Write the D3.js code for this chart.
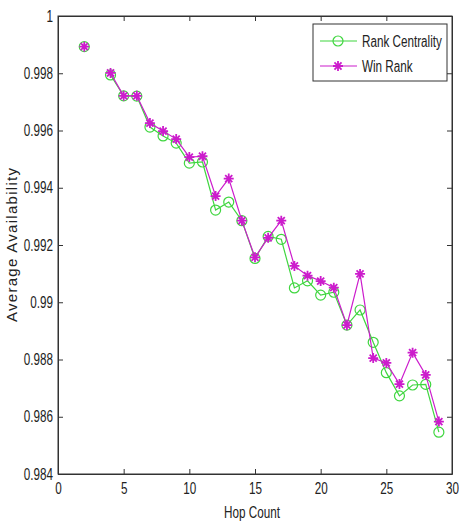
<!DOCTYPE html>
<html>
<head>
<meta charset="utf-8">
<script src="https://cdn.jsdelivr.net/npm/d3@7"></script>
<style>
    body { margin: 0; background: #fff; }
    svg text { font-family: "Liberation Sans", Arial, sans-serif; fill: #222; }
</style>
</head>
<body>
<svg id="chart" width="459" height="525"></svg>
<script>
// hop counts (3 has no value in the source)
const hops = [2, 3, 4, 5, 6, 7, 8, 9, 10, 11, 12, 13, 14, 15, 16, 17, 18, 19, 20, 21, 22, 23, 24, 25, 26, 27, 28, 29];
const rankCentrality = [0.99893, null, 0.99794, 0.99721, 0.99720, 0.99612, 0.99581, 0.99556, 0.99486, 0.99490,
    0.99322, 0.99350, 0.99285, 0.99153, 0.99230, 0.99220, 0.99050, 0.99075, 0.99025, 0.99035,
    0.98920, 0.98973, 0.98860, 0.98754, 0.98673, 0.98711, 0.98713, 0.98546];
const winRank = [0.99893, null, 0.99801, 0.99721, 0.99721, 0.99626, 0.99598, 0.99570, 0.99507, 0.99510,
    0.99371, 0.99432, 0.99285, 0.99157, 0.99225, 0.99285, 0.99127, 0.99093, 0.99074, 0.99051,
    0.98920, 0.99099, 0.98805, 0.98788, 0.98714, 0.98824, 0.98746, 0.98583];
const xTicks = [0, 5, 10, 15, 20, 25, 30];
const yTicks = [0.984, 0.986, 0.988, 0.99, 0.992, 0.994, 0.996, 0.998, 1];

const margin = { top: 16, right: 7, bottom: 51, left: 58 };
const width = 459;
const height = 525;
const SQUEEZE = 0.73; // the source text is horizontally condensed

const svg = d3.select('#chart');

const x = d3.scaleLinear().domain([0, 30]).range([margin.left, width - margin.right]);
const y = d3.scaleLinear().domain([0.984, 1]).range([height - margin.bottom, margin.top]);

const fmt = d => String(+d.toFixed(3));

function condense(selection) {
    selection.each(function () {
        const w = this.getComputedTextLength();
        this.setAttribute('textLength', w * SQUEEZE);
        this.setAttribute('lengthAdjust', 'spacingAndGlyphs');
    });
}

// axes with inward ticks, mirrored on top and right
svg.append('g')
    .attr('transform', `translate(0,${y.range()[0]})`)
    .call(d3.axisBottom(x).tickValues(xTicks).tickSize(-5).tickSizeOuter(0).tickPadding(9))
    .call(g => g.selectAll('text').attr('font-size', 16).call(condense));
svg.append('g')
    .attr('transform', `translate(0,${y.range()[1]})`)
    .call(d3.axisTop(x).tickValues(xTicks).tickSize(-5).tickSizeOuter(0).tickFormat(''));
svg.append('g')
    .attr('transform', `translate(${x.range()[0]},0)`)
    .call(d3.axisLeft(y).tickValues(yTicks).tickSize(-5).tickSizeOuter(0).tickPadding(5).tickFormat(fmt))
    .call(g => g.selectAll('text').attr('font-size', 16).call(condense));
svg.append('g')
    .attr('transform', `translate(${x.range()[1]},0)`)
    .call(d3.axisRight(y).tickValues(yTicks).tickSize(-5).tickSizeOuter(0).tickFormat(''));

svg.selectAll('.domain').attr('stroke', '#333');
svg.selectAll('.tick line').attr('stroke', '#333');

svg.append('rect')
    .attr('x', x.range()[0])
    .attr('y', y.range()[1])
    .attr('width', x.range()[1] - x.range()[0])
    .attr('height', y.range()[0] - y.range()[1])
    .attr('fill', 'none')
    .attr('stroke', '#333');

svg.append('text')
    .attr('x', 252)
    .attr('y', 518)
    .attr('text-anchor', 'middle')
    .attr('font-size', 16)
    .text('Hop Count')
    .call(condense);

svg.append('text')
    .attr('transform', 'translate(17,245) rotate(-90)')
    .attr('text-anchor', 'middle')
    .attr('font-size', 15)
    .attr('textLength', 154)
    .attr('lengthAdjust', 'spacing')
    .text('Average Availability');

const series = [
    { name: 'Rank Centrality', values: rankCentrality, color: '#3fd63f', marker: 'circle' },
    { name: 'Win Rank', values: winRank, color: '#cc1ccc', marker: 'star' },
];

const line = d3.line()
    .defined(d => d[1] != null)
    .x(d => x(d[0]))
    .y(d => y(d[1]));

function drawMarker(g, kind, color) {
    if (kind === 'circle') {
        g.append('circle').attr('r', 5).attr('fill', 'none').attr('stroke', color).attr('stroke-width', 1.2);
    } else {
        const r = 5;
        const path = d3.path();
        for (let i = 0; i < 4; i++) {
            const a = (i * Math.PI) / 4;
            path.moveTo(-r * Math.cos(a), -r * Math.sin(a));
            path.lineTo(r * Math.cos(a), r * Math.sin(a));
        }
        g.append('path').attr('d', path.toString()).attr('stroke', color).attr('stroke-width', 1.8);
    }
}

series.forEach(s => {
    const pts = hops.map((h, i) => [h, s.values[i]]);
    svg.append('path')
        .datum(pts)
        .attr('d', line)
        .attr('fill', 'none')
        .attr('stroke', s.color)
        .attr('stroke-width', 1.2);
    svg.append('g')
        .selectAll('g')
        .data(pts.filter(d => d[1] != null))
        .join('g')
        .attr('transform', d => `translate(${x(d[0])},${y(d[1])})`)
        .each(function () { drawMarker(d3.select(this), s.marker, s.color); });
});

// legend
const legend = svg.append('g').attr('transform', 'translate(313,24)');
legend.append('rect')
    .attr('width', 134)
    .attr('height', 57)
    .attr('fill', '#fff')
    .attr('stroke', '#333');
series.forEach((s, i) => {
    const row = legend.append('g').attr('transform', `translate(0,${17 + i * 25})`);
    row.append('line').attr('x1', 7).attr('x2', 44).attr('stroke', s.color).attr('stroke-width', 1.2);
    drawMarker(row.append('g').attr('transform', 'translate(25,0)'), s.marker, s.color);
    row.append('text')
        .attr('x', 49)
        .attr('dy', '0.35em')
        .attr('font-size', 16)
        .text(s.name)
        .call(condense);
});
</script>
</body>
</html>
